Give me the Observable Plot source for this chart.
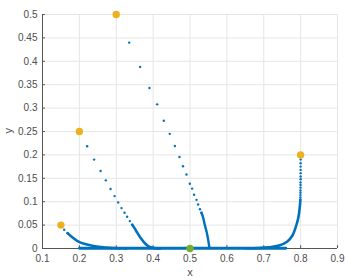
<!DOCTYPE html>
<html><head><meta charset="utf-8">
<script src="https://cdn.jsdelivr.net/npm/d3@7"></script>
<script src="https://cdn.jsdelivr.net/npm/@observablehq/plot@0.6"></script>
<style>body{margin:0;background:#fff;} #c{width:350px;height:280px;}</style>
</head><body><div id="c"></div>
<script>
const xTicks = [0.1,0.2,0.3,0.4,0.5,0.6,0.7,0.8,0.9];
const yTicks = [0,0.05,0.1,0.15,0.2,0.25,0.3,0.35,0.4,0.45,0.5];
const startX = [0.15,0.2,0.3,0.8];
const startY = [0.05,0.25,0.5,0.2];
const endX = [0.5];
const endY = [0];
// sparse dots
const t1dots = [[0.335,0.44],[0.3648,0.388],[0.390,0.343],[0.411,0.308],[0.429,0.273],[0.445,0.245],[0.459,0.219],[0.4715,0.1955],[0.481,0.1756],[0.4905,0.158],[0.4995,0.1385],[0.5057,0.128],[0.511,0.115],[0.5176,0.104],[0.522,0.094],[0.527,0.084],[0.531,0.0764]];
const t2dots = [[0.2211,0.2184],[0.240,0.190],[0.2575,0.1655],[0.2718,0.1456],[0.2845,0.127],[0.2954,0.112],[0.3052,0.0985],[0.3143,0.0863],[0.3225,0.0764],[0.3295,0.0679],[0.3369,0.0585],[0.3431,0.0507]];
const t3dots = [[0.1588,0.040],[0.168,0.0328]];
const t4dots = [[0.8,0.190],[0.8,0.182],[0.8,0.175],[0.8,0.168],[0.8,0.161],[0.8,0.154],[0.8,0.148],[0.7998,0.141],[0.7998,0.1356],[0.7997,0.130],[0.7996,0.124],[0.7995,0.119],[0.7994,0.1141],[0.7993,0.109],[0.7992,0.104]];
// dense stretches
const t1line = [[0.531,0.0764],[0.5347,0.0685],[0.540,0.051],[0.5455,0.034],[0.5496,0.017],[0.552,0.005],[0.553,0.001]];
const t2line = [[0.3431,0.0507],[0.3496,0.0435],[0.3577,0.0328],[0.3667,0.022],[0.3775,0.0113],[0.389,0.004],[0.4027,0.0008],[0.42,0.0003]];
const t3line = [[0.168,0.0328],[0.179,0.025],[0.195,0.016],[0.213,0.010],[0.235,0.006],[0.258,0.003],[0.29,0.0012],[0.33,0.0005]];
const t4line = [[0.7992,0.104],[0.7989,0.099],[0.7976,0.088],[0.794,0.067],[0.7867,0.0456],[0.7778,0.0278],[0.764,0.015],[0.7415,0.0064],[0.714,0.0025],[0.687,0.001],[0.65,0.0005]];
const baseLine = [[0.2,0.0005],[0.76,0.0005]];
const tickLenX = 0.006, tickLenY = 0.008;

const blue = "#0072BD", yellow = "#EDB120", green = "#77AC30";
const pts = a => a.map(([x,y]) => ({x,y}));
const starts = startX.map((x,i)=>({x,y:startY[i]}));
const ends = endX.map((x,i)=>({x,y:endY[i]}));

const chart = Plot.plot({
  width: 350, height: 280,
  marginLeft: 42, marginRight: 13, marginTop: 14, marginBottom: 32,
  style: {fontFamily: "'Liberation Sans', Arial, sans-serif", fontSize: "10px", color: "#4d4d4d", background: "#fff"},
  x: {type: "linear", domain: [0.1,0.9]},
  y: {type: "linear", domain: [0,0.5]},
  marks: [
    Plot.gridX(xTicks, {stroke: "#e6e6e6", strokeOpacity: 1}),
    Plot.gridY(yTicks, {stroke: "#e6e6e6", strokeOpacity: 1}),
    Plot.ruleX([0.1], {stroke: "#555"}),
    Plot.ruleY([0], {stroke: "#555"}),
    Plot.ruleX(xTicks, {x: d => d, y1: 0, y2: tickLenX, stroke: "#555"}),
    Plot.ruleY(yTicks, {y: d => d, x1: 0.1, x2: 0.1 + tickLenY, stroke: "#555"}),
    Plot.axisX(xTicks, {tickFormat: d => String(d), tickSize: 0, tickPadding: 6, label: null, fill: "#4d4d4d"}),
    Plot.axisY(yTicks, {tickFormat: d => String(d), tickSize: 0, tickPadding: 5, label: null, fill: "#4d4d4d"}),
    Plot.line(pts(baseLine), {x: "x", y: "y", stroke: blue, strokeWidth: 2.8}),
    Plot.line(pts(t1line), {x: "x", y: "y", stroke: blue, strokeWidth: 2.4, curve: "catmull-rom"}),
    Plot.line(pts(t2line), {x: "x", y: "y", stroke: blue, strokeWidth: 2.6, curve: "catmull-rom"}),
    Plot.line(pts(t3line), {x: "x", y: "y", stroke: blue, strokeWidth: 2.6, curve: "catmull-rom"}),
    Plot.line(pts(t4line), {x: "x", y: "y", stroke: blue, strokeWidth: 2.6, curve: "catmull-rom"}),
    Plot.dot(pts([...t1dots, ...t2dots, ...t3dots, ...t4dots]), {x: "x", y: "y", r: 1.2, fill: blue, stroke: "none"}),
    Plot.dot(starts, {x: "x", y: "y", r: 3.7, fill: yellow, stroke: "none"}),
    Plot.dot(ends, {x: "x", y: "y", r: 3.7, fill: green, stroke: "none"}),
    Plot.text(["x"], {frameAnchor: "bottom", dy: 27, fontSize: 11, fill: "#4d4d4d"}),
    Plot.text(["y"], {frameAnchor: "left", dx: -34, dy: 2, rotate: -90, fontSize: 11, fill: "#4d4d4d"})
  ]
});
document.getElementById("c").appendChild(chart);
</script></body></html>
